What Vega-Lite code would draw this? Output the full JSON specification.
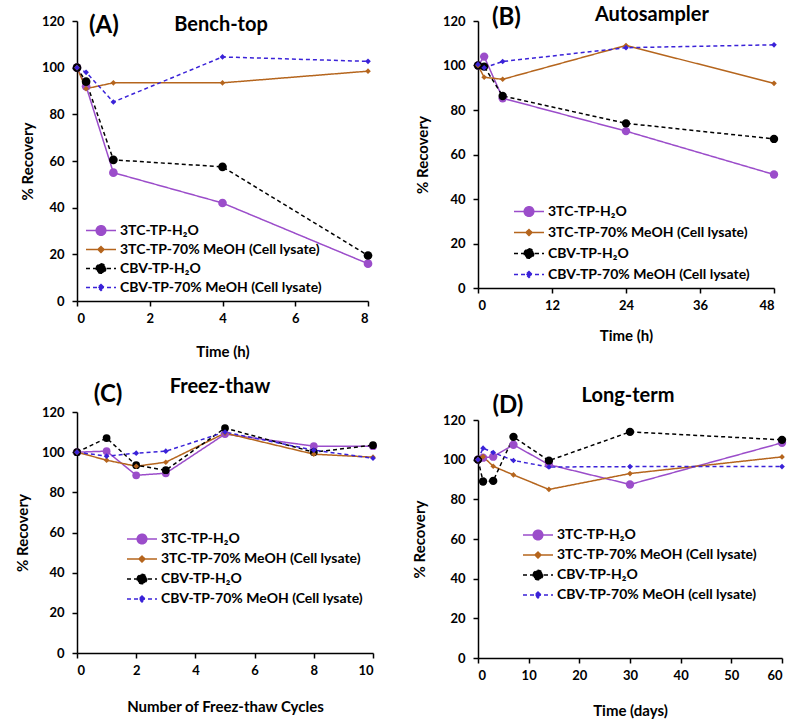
{
  "$schema": "https://vega.github.io/schema/vega-lite/v6.json",
  "padding": {"left": 15, "top": 4, "right": 5, "bottom": 5},
  "background": "white",
  "data": {"values": [
    {"p":"A","s":"3TC-TP-H₂O","x":0,"y":100},{"p":"A","s":"3TC-TP-H₂O","x":0.25,"y":92},{"p":"A","s":"3TC-TP-H₂O","x":1,"y":55},{"p":"A","s":"3TC-TP-H₂O","x":4,"y":42},{"p":"A","s":"3TC-TP-H₂O","x":8,"y":16},
    {"p":"A","s":"3TC-TP-70% MeOH (Cell lysate)","x":0,"y":100},{"p":"A","s":"3TC-TP-70% MeOH (Cell lysate)","x":0.25,"y":91},{"p":"A","s":"3TC-TP-70% MeOH (Cell lysate)","x":1,"y":93.5},{"p":"A","s":"3TC-TP-70% MeOH (Cell lysate)","x":4,"y":93.5},{"p":"A","s":"3TC-TP-70% MeOH (Cell lysate)","x":8,"y":98.5},
    {"p":"A","s":"CBV-TP-H₂O","x":0,"y":100},{"p":"A","s":"CBV-TP-H₂O","x":0.25,"y":94},{"p":"A","s":"CBV-TP-H₂O","x":1,"y":60.5},{"p":"A","s":"CBV-TP-H₂O","x":4,"y":57.5},{"p":"A","s":"CBV-TP-H₂O","x":8,"y":19.5},
    {"p":"A","s":"CBV-TP-70% MeOH (Cell lysate)","x":0,"y":100},{"p":"A","s":"CBV-TP-70% MeOH (Cell lysate)","x":0.25,"y":98},{"p":"A","s":"CBV-TP-70% MeOH (Cell lysate)","x":1,"y":85.3},{"p":"A","s":"CBV-TP-70% MeOH (Cell lysate)","x":4,"y":104.6},{"p":"A","s":"CBV-TP-70% MeOH (Cell lysate)","x":8,"y":102.7},

    {"p":"B","s":"3TC-TP-H₂O","x":0,"y":100},{"p":"B","s":"3TC-TP-H₂O","x":1,"y":104},{"p":"B","s":"3TC-TP-H₂O","x":4,"y":85.3},{"p":"B","s":"3TC-TP-H₂O","x":24,"y":70.5},{"p":"B","s":"3TC-TP-H₂O","x":48,"y":51},
    {"p":"B","s":"3TC-TP-70% MeOH (Cell lysate)","x":0,"y":100},{"p":"B","s":"3TC-TP-70% MeOH (Cell lysate)","x":1,"y":94.7},{"p":"B","s":"3TC-TP-70% MeOH (Cell lysate)","x":4,"y":93.8},{"p":"B","s":"3TC-TP-70% MeOH (Cell lysate)","x":24,"y":109},{"p":"B","s":"3TC-TP-70% MeOH (Cell lysate)","x":48,"y":92},
    {"p":"B","s":"CBV-TP-H₂O","x":0,"y":100},{"p":"B","s":"CBV-TP-H₂O","x":1,"y":99.5},{"p":"B","s":"CBV-TP-H₂O","x":4,"y":86.3},{"p":"B","s":"CBV-TP-H₂O","x":24,"y":74},{"p":"B","s":"CBV-TP-H₂O","x":48,"y":67},
    {"p":"B","s":"CBV-TP-70% MeOH (Cell lysate)","x":0,"y":100.5},{"p":"B","s":"CBV-TP-70% MeOH (Cell lysate)","x":1,"y":99},{"p":"B","s":"CBV-TP-70% MeOH (Cell lysate)","x":4,"y":101.8},{"p":"B","s":"CBV-TP-70% MeOH (Cell lysate)","x":24,"y":108},{"p":"B","s":"CBV-TP-70% MeOH (Cell lysate)","x":48,"y":109.3},

    {"p":"C","s":"3TC-TP-H₂O","x":0,"y":100},{"p":"C","s":"3TC-TP-H₂O","x":1,"y":100.5},{"p":"C","s":"3TC-TP-H₂O","x":2,"y":88.5},{"p":"C","s":"3TC-TP-H₂O","x":3,"y":89.5},{"p":"C","s":"3TC-TP-H₂O","x":5,"y":109},{"p":"C","s":"3TC-TP-H₂O","x":8,"y":103},{"p":"C","s":"3TC-TP-H₂O","x":10,"y":103},
    {"p":"C","s":"3TC-TP-70% MeOH (Cell lysate)","x":0,"y":100},{"p":"C","s":"3TC-TP-70% MeOH (Cell lysate)","x":1,"y":96},{"p":"C","s":"3TC-TP-70% MeOH (Cell lysate)","x":2,"y":93},{"p":"C","s":"3TC-TP-70% MeOH (Cell lysate)","x":3,"y":95},{"p":"C","s":"3TC-TP-70% MeOH (Cell lysate)","x":5,"y":109.5},{"p":"C","s":"3TC-TP-70% MeOH (Cell lysate)","x":8,"y":99},{"p":"C","s":"3TC-TP-70% MeOH (Cell lysate)","x":10,"y":97.5},
    {"p":"C","s":"CBV-TP-H₂O","x":0,"y":100},{"p":"C","s":"CBV-TP-H₂O","x":1,"y":107},{"p":"C","s":"CBV-TP-H₂O","x":2,"y":93.5},{"p":"C","s":"CBV-TP-H₂O","x":3,"y":91},{"p":"C","s":"CBV-TP-H₂O","x":5,"y":112},{"p":"C","s":"CBV-TP-H₂O","x":8,"y":100},{"p":"C","s":"CBV-TP-H₂O","x":10,"y":103.5},
    {"p":"C","s":"CBV-TP-70% MeOH (Cell lysate)","x":0,"y":100},{"p":"C","s":"CBV-TP-70% MeOH (Cell lysate)","x":1,"y":98},{"p":"C","s":"CBV-TP-70% MeOH (Cell lysate)","x":2,"y":99.5},{"p":"C","s":"CBV-TP-70% MeOH (Cell lysate)","x":3,"y":100.5},{"p":"C","s":"CBV-TP-70% MeOH (Cell lysate)","x":5,"y":110},{"p":"C","s":"CBV-TP-70% MeOH (Cell lysate)","x":8,"y":101},{"p":"C","s":"CBV-TP-70% MeOH (Cell lysate)","x":10,"y":97},

    {"p":"D","s":"3TC-TP-H₂O","x":0,"y":100},{"p":"D","s":"3TC-TP-H₂O","x":1,"y":101},{"p":"D","s":"3TC-TP-H₂O","x":3,"y":101.5},{"p":"D","s":"3TC-TP-H₂O","x":7,"y":107.5},{"p":"D","s":"3TC-TP-H₂O","x":14,"y":97.5},{"p":"D","s":"3TC-TP-H₂O","x":30,"y":87.5},{"p":"D","s":"3TC-TP-H₂O","x":60,"y":108.5},
    {"p":"D","s":"3TC-TP-70% MeOH (Cell lysate)","x":0,"y":100},{"p":"D","s":"3TC-TP-70% MeOH (Cell lysate)","x":1,"y":101.5},{"p":"D","s":"3TC-TP-70% MeOH (Cell lysate)","x":3,"y":96.7},{"p":"D","s":"3TC-TP-70% MeOH (Cell lysate)","x":7,"y":92.3},{"p":"D","s":"3TC-TP-70% MeOH (Cell lysate)","x":14,"y":85},{"p":"D","s":"3TC-TP-70% MeOH (Cell lysate)","x":30,"y":93},{"p":"D","s":"3TC-TP-70% MeOH (Cell lysate)","x":60,"y":101.4},
    {"p":"D","s":"CBV-TP-H₂O","x":0,"y":100},{"p":"D","s":"CBV-TP-H₂O","x":1,"y":89},{"p":"D","s":"CBV-TP-H₂O","x":3,"y":89.3},{"p":"D","s":"CBV-TP-H₂O","x":7,"y":111.5},{"p":"D","s":"CBV-TP-H₂O","x":14,"y":99.5},{"p":"D","s":"CBV-TP-H₂O","x":30,"y":114},{"p":"D","s":"CBV-TP-H₂O","x":60,"y":110},
    {"p":"D","s":"CBV-TP-70% MeOH (cell lysate)","x":0,"y":100},{"p":"D","s":"CBV-TP-70% MeOH (cell lysate)","x":1,"y":105.8},{"p":"D","s":"CBV-TP-70% MeOH (cell lysate)","x":3,"y":103.6},{"p":"D","s":"CBV-TP-70% MeOH (cell lysate)","x":7,"y":99.6},{"p":"D","s":"CBV-TP-70% MeOH (cell lysate)","x":14,"y":96.3},{"p":"D","s":"CBV-TP-70% MeOH (cell lysate)","x":30,"y":96.5},{"p":"D","s":"CBV-TP-70% MeOH (cell lysate)","x":60,"y":96.5}
  ]},
  "hconcat": [
    {
      "vconcat": [
        {
          "width": 291, "height": 280,
          "transform": [{"filter": "datum.p === 'A'"}],
          "layer": [
            {"mark": {"type": "line", "strokeWidth": 1.5},
             "encoding": {
               "x": {"field": "x", "type": "quantitative", "scale": {"domain": [0, 8], "nice": false}, "axis": {"values": [0,2,4,6,8], "title": "Time (h)", "titlePadding": 19, "labelOverlap": false}},
               "y": {"field": "y", "type": "quantitative", "scale": {"domain": [0, 120], "nice": false}, "axis": {"values": [0,20,40,60,80,100,120], "title": "% Recovery", "titlePadding": 6, "labelOverlap": false}},
               "color": {"field": "s", "type": "nominal", "scale": {"domain": ["3TC-TP-H₂O","3TC-TP-70% MeOH (Cell lysate)","CBV-TP-H₂O","CBV-TP-70% MeOH (Cell lysate)"], "range": ["#9B4DCA","#B5651D","#000000","#3A22D8"]},
                 "legend": {"title": null, "orient": "none", "legendX": 8, "legendY": 200, "clipHeight": 19,
                   "encode": {"symbols": {"update": {
                     "shape": {"signal": "indexof(datum.value,'H₂O')>0 ? 'M-1,0H1M-0.32,0A0.32,0.32 0 1,1 0.32,0A0.32,0.32 0 1,1 -0.32,0Z' : 'M-1,0H1M0,-0.2L0.2,0L0,0.2L-0.2,0Z'"},
                     "fill": {"signal": "indexof(datum.value,'3TC')===0 ? (indexof(datum.value,'H₂O')>0 ? '#9B4DCA' : '#B5651D') : (indexof(datum.value,'H₂O')>0 ? '#000000' : '#3A22D8')"},
                     "stroke": {"signal": "indexof(datum.value,'3TC')===0 ? (indexof(datum.value,'H₂O')>0 ? '#9B4DCA' : '#B5651D') : (indexof(datum.value,'H₂O')>0 ? '#000000' : '#3A22D8')"},
                     "strokeDash": {"signal": "indexof(datum.value,'CBV')===0 ? [4,3] : [1,0]"},
                     "strokeWidth": {"value": 1.5},
                     "opacity": {"value": 1}
                   }}}}},
               "strokeDash": {"field": "s", "type": "nominal", "scale": {"domain": ["3TC-TP-H₂O","3TC-TP-70% MeOH (Cell lysate)","CBV-TP-H₂O","CBV-TP-70% MeOH (Cell lysate)"], "range": [[1,0],[1,0],[4,3],[4,3]]}, "legend": null}
             }},
            {"transform": [{"filter": "indexof(datum.s,'H₂O') > 0"}],
             "mark": {"type": "point", "filled": true, "opacity": 1, "shape": "circle", "size": 75},
             "encoding": {"x": {"field": "x", "type": "quantitative"}, "y": {"field": "y", "type": "quantitative"}, "color": {"field": "s", "type": "nominal"}}},
            {"transform": [{"filter": "indexof(datum.s,'MeOH') > 0"}],
             "mark": {"type": "point", "filled": true, "opacity": 1, "shape": "diamond", "size": 32},
             "encoding": {"x": {"field": "x", "type": "quantitative"}, "y": {"field": "y", "type": "quantitative"}, "color": {"field": "s", "type": "nominal"}}},
            {"data": {"values": [{}]}, "mark": {"type": "text", "fontSize": 24, "fontWeight": "bold", "color": "black", "baseline": "middle", "align": "center"},
             "encoding": {"x": {"datum": 0.74}, "y": {"datum": 118}, "text": {"value": "(A)"}}},
            {"data": {"values": [{}]}, "mark": {"type": "text", "fontSize": 20, "fontWeight": "bold", "color": "black", "baseline": "middle", "align": "center"},
             "encoding": {"x": {"datum": 3.96}, "y": {"datum": 118.5}, "text": {"value": "Bench-top"}}}
          ]
        },
        {
          "width": 296, "height": 241,
          "transform": [{"filter": "datum.p === 'C'"}],
          "layer": [
            {"mark": {"type": "line", "strokeWidth": 1.5},
             "encoding": {
               "x": {"field": "x", "type": "quantitative", "scale": {"domain": [0, 10], "nice": false}, "axis": {"values": [0,2,4,6,8,10], "title": "Number of Freez-thaw Cycles", "titlePadding": 22, "labelOverlap": false}},
               "y": {"field": "y", "type": "quantitative", "scale": {"domain": [0, 120], "nice": false}, "axis": {"values": [0,20,40,60,80,100,120], "title": "% Recovery", "titlePadding": 11, "labelOverlap": false}},
               "color": {"field": "s", "type": "nominal", "scale": {"domain": ["3TC-TP-H₂O","3TC-TP-70% MeOH (Cell lysate)","CBV-TP-H₂O","CBV-TP-70% MeOH (Cell lysate)"], "range": ["#9B4DCA","#B5651D","#000000","#3A22D8"]},
                 "legend": {"title": null, "orient": "none", "legendX": 49, "legendY": 117, "clipHeight": 20,
                   "encode": {"symbols": {"update": {
                     "shape": {"signal": "indexof(datum.value,'H₂O')>0 ? 'M-1,0H1M-0.32,0A0.32,0.32 0 1,1 0.32,0A0.32,0.32 0 1,1 -0.32,0Z' : 'M-1,0H1M0,-0.2L0.2,0L0,0.2L-0.2,0Z'"},
                     "fill": {"signal": "indexof(datum.value,'3TC')===0 ? (indexof(datum.value,'H₂O')>0 ? '#9B4DCA' : '#B5651D') : (indexof(datum.value,'H₂O')>0 ? '#000000' : '#3A22D8')"},
                     "stroke": {"signal": "indexof(datum.value,'3TC')===0 ? (indexof(datum.value,'H₂O')>0 ? '#9B4DCA' : '#B5651D') : (indexof(datum.value,'H₂O')>0 ? '#000000' : '#3A22D8')"},
                     "strokeDash": {"signal": "indexof(datum.value,'CBV')===0 ? [4,3] : [1,0]"},
                     "strokeWidth": {"value": 1.5},
                     "opacity": {"value": 1}
                   }}}}},
               "strokeDash": {"field": "s", "type": "nominal", "scale": {"domain": ["3TC-TP-H₂O","3TC-TP-70% MeOH (Cell lysate)","CBV-TP-H₂O","CBV-TP-70% MeOH (Cell lysate)"], "range": [[1,0],[1,0],[4,3],[4,3]]}, "legend": null}
             }},
            {"transform": [{"filter": "indexof(datum.s,'H₂O') > 0"}],
             "mark": {"type": "point", "filled": true, "opacity": 1, "shape": "circle", "size": 60},
             "encoding": {"x": {"field": "x", "type": "quantitative"}, "y": {"field": "y", "type": "quantitative"}, "color": {"field": "s", "type": "nominal"}}},
            {"transform": [{"filter": "indexof(datum.s,'MeOH') > 0"}],
             "mark": {"type": "point", "filled": true, "opacity": 1, "shape": "diamond", "size": 32},
             "encoding": {"x": {"field": "x", "type": "quantitative"}, "y": {"field": "y", "type": "quantitative"}, "color": {"field": "s", "type": "nominal"}}},
            {"data": {"values": [{}]}, "mark": {"type": "text", "fontSize": 24, "fontWeight": "bold", "color": "black", "baseline": "middle", "align": "center"},
             "encoding": {"x": {"datum": 1.05}, "y": {"datum": 128.5}, "text": {"value": "(C)"}}},
            {"data": {"values": [{}]}, "mark": {"type": "text", "fontSize": 20, "fontWeight": "bold", "color": "black", "baseline": "middle", "align": "center"},
             "encoding": {"x": {"datum": 4.83}, "y": {"datum": 132.5}, "text": {"value": "Freez-thaw"}}}
          ]
        }
      ],
      "spacing": 17, "align": "each",
      "resolve": {"scale": {"color": "independent", "strokeDash": "independent", "x": "independent", "y": "independent"}, "legend": {"color": "independent"}, "axis": {"x": "independent", "y": "independent"}}
    },
    {
      "vconcat": [
        {
          "width": 296, "height": 267,
          "transform": [{"filter": "datum.p === 'B'"}],
          "layer": [
            {"mark": {"type": "line", "strokeWidth": 1.5},
             "encoding": {
               "x": {"field": "x", "type": "quantitative", "scale": {"domain": [0, 48], "nice": false}, "axis": {"values": [0,6,12,18,24,30,36,42,48], "title": "Time (h)", "titlePadding": 16, "labelOverlap": false}},
               "y": {"field": "y", "type": "quantitative", "scale": {"domain": [0, 120], "nice": false}, "axis": {"values": [0,20,40,60,80,100,120], "title": "% Recovery", "titlePadding": 12, "labelOverlap": false}},
               "color": {"field": "s", "type": "nominal", "scale": {"domain": ["3TC-TP-H₂O","3TC-TP-70% MeOH (Cell lysate)","CBV-TP-H₂O","CBV-TP-70% MeOH (Cell lysate)"], "range": ["#9B4DCA","#B5651D","#000000","#3A22D8"]},
                 "legend": {"title": null, "orient": "none", "legendX": 35, "legendY": 180, "clipHeight": 21,
                   "encode": {"symbols": {"update": {
                     "shape": {"signal": "indexof(datum.value,'H₂O')>0 ? 'M-1,0H1M-0.32,0A0.32,0.32 0 1,1 0.32,0A0.32,0.32 0 1,1 -0.32,0Z' : 'M-1,0H1M0,-0.2L0.2,0L0,0.2L-0.2,0Z'"},
                     "fill": {"signal": "indexof(datum.value,'3TC')===0 ? (indexof(datum.value,'H₂O')>0 ? '#9B4DCA' : '#B5651D') : (indexof(datum.value,'H₂O')>0 ? '#000000' : '#3A22D8')"},
                     "stroke": {"signal": "indexof(datum.value,'3TC')===0 ? (indexof(datum.value,'H₂O')>0 ? '#9B4DCA' : '#B5651D') : (indexof(datum.value,'H₂O')>0 ? '#000000' : '#3A22D8')"},
                     "strokeDash": {"signal": "indexof(datum.value,'CBV')===0 ? [4,3] : [1,0]"},
                     "strokeWidth": {"value": 1.5},
                     "opacity": {"value": 1}
                   }}}}},
               "strokeDash": {"field": "s", "type": "nominal", "scale": {"domain": ["3TC-TP-H₂O","3TC-TP-70% MeOH (Cell lysate)","CBV-TP-H₂O","CBV-TP-70% MeOH (Cell lysate)"], "range": [[1,0],[1,0],[4,3],[4,3]]}, "legend": null}
             }},
            {"transform": [{"filter": "indexof(datum.s,'H₂O') > 0"}],
             "mark": {"type": "point", "filled": true, "opacity": 1, "shape": "circle", "size": 70},
             "encoding": {"x": {"field": "x", "type": "quantitative"}, "y": {"field": "y", "type": "quantitative"}, "color": {"field": "s", "type": "nominal"}}},
            {"transform": [{"filter": "indexof(datum.s,'MeOH') > 0"}],
             "mark": {"type": "point", "filled": true, "opacity": 1, "shape": "diamond", "size": 32},
             "encoding": {"x": {"field": "x", "type": "quantitative"}, "y": {"field": "y", "type": "quantitative"}, "color": {"field": "s", "type": "nominal"}}},
            {"data": {"values": [{}]}, "mark": {"type": "text", "fontSize": 24, "fontWeight": "bold", "color": "black", "baseline": "middle", "align": "center"},
             "encoding": {"x": {"datum": 4.6}, "y": {"datum": 121.5}, "text": {"value": "(B)"}}},
            {"data": {"values": [{}]}, "mark": {"type": "text", "fontSize": 20, "fontWeight": "bold", "color": "black", "baseline": "middle", "align": "center"},
             "encoding": {"x": {"datum": 28.2}, "y": {"datum": 122.8}, "text": {"value": "Autosampler"}}}
          ]
        },
        {
          "width": 304, "height": 238,
          "transform": [{"filter": "datum.p === 'D'"}],
          "layer": [
            {"mark": {"type": "line", "strokeWidth": 1.5},
             "encoding": {
               "x": {"field": "x", "type": "quantitative", "scale": {"domain": [0, 60], "nice": false}, "axis": {"values": [0,10,20,30,40,50,60], "title": "Time (days)", "titlePadding": 21, "labelOverlap": false}},
               "y": {"field": "y", "type": "quantitative", "scale": {"domain": [0, 120], "nice": false}, "axis": {"values": [0,20,40,60,80,100,120], "tickCount": 7, "title": "% Recovery", "titlePadding": 15, "labelOverlap": false, "labelSeparation": 0, "labelBound": false}},
               "color": {"field": "s", "type": "nominal", "scale": {"domain": ["3TC-TP-H₂O","3TC-TP-70% MeOH (Cell lysate)","CBV-TP-H₂O","CBV-TP-70% MeOH (cell lysate)"], "range": ["#9B4DCA","#B5651D","#000000","#3A22D8"]},
                 "legend": {"title": null, "orient": "none", "legendX": 44, "legendY": 105, "clipHeight": 20,
                   "encode": {"symbols": {"update": {
                     "shape": {"signal": "indexof(datum.value,'H₂O')>0 ? 'M-1,0H1M-0.32,0A0.32,0.32 0 1,1 0.32,0A0.32,0.32 0 1,1 -0.32,0Z' : 'M-1,0H1M0,-0.2L0.2,0L0,0.2L-0.2,0Z'"},
                     "fill": {"signal": "indexof(datum.value,'3TC')===0 ? (indexof(datum.value,'H₂O')>0 ? '#9B4DCA' : '#B5651D') : (indexof(datum.value,'H₂O')>0 ? '#000000' : '#3A22D8')"},
                     "stroke": {"signal": "indexof(datum.value,'3TC')===0 ? (indexof(datum.value,'H₂O')>0 ? '#9B4DCA' : '#B5651D') : (indexof(datum.value,'H₂O')>0 ? '#000000' : '#3A22D8')"},
                     "strokeDash": {"signal": "indexof(datum.value,'CBV')===0 ? [4,3] : [1,0]"},
                     "strokeWidth": {"value": 1.5},
                     "opacity": {"value": 1}
                   }}}}},
               "strokeDash": {"field": "s", "type": "nominal", "scale": {"domain": ["3TC-TP-H₂O","3TC-TP-70% MeOH (Cell lysate)","CBV-TP-H₂O","CBV-TP-70% MeOH (cell lysate)"], "range": [[1,0],[1,0],[4,3],[4,3]]}, "legend": null}
             }},
            {"transform": [{"filter": "indexof(datum.s,'H₂O') > 0"}],
             "mark": {"type": "point", "filled": true, "opacity": 1, "shape": "circle", "size": 70},
             "encoding": {"x": {"field": "x", "type": "quantitative"}, "y": {"field": "y", "type": "quantitative", "axis": {"values": [0,20,40,60,80,100,120], "labelOverlap": false}}, "color": {"field": "s", "type": "nominal"}}},
            {"transform": [{"filter": "indexof(datum.s,'MeOH') > 0"}],
             "mark": {"type": "point", "filled": true, "opacity": 1, "shape": "diamond", "size": 32},
             "encoding": {"x": {"field": "x", "type": "quantitative"}, "y": {"field": "y", "type": "quantitative", "axis": {"values": [0,20,40,60,80,100,120], "labelOverlap": false}}, "color": {"field": "s", "type": "nominal"}}},
            {"data": {"values": [{}]}, "mark": {"type": "text", "fontSize": 24, "fontWeight": "bold", "color": "black", "baseline": "middle", "align": "center"},
             "encoding": {"x": {"datum": 5.9}, "y": {"datum": 127}, "text": {"value": "(D)"}}},
            {"data": {"values": [{}]}, "mark": {"type": "text", "fontSize": 20, "fontWeight": "bold", "color": "black", "baseline": "middle", "align": "center"},
             "encoding": {"x": {"datum": 29.6}, "y": {"datum": 132}, "text": {"value": "Long-term"}}}
          ]
        }
      ],
      "spacing": 43, "align": "each",
      "resolve": {"scale": {"color": "independent", "strokeDash": "independent", "x": "independent", "y": "independent"}, "legend": {"color": "independent"}, "axis": {"x": "independent", "y": "independent"}}
    }
  ],
  "spacing": 35,
  "align": "none",
  "resolve": {"scale": {"color": "independent", "strokeDash": "independent", "x": "independent", "y": "independent"}, "legend": {"color": "independent"}},
  "config": {
    "font": "Lato",
    "view": {"stroke": null},
    "axis": {"grid": false, "domainColor": "black", "domainWidth": 1.5, "tickColor": "black", "tickWidth": 1.5, "tickSize": 5, "labelOverlap": false,
             "labelFont": "Lato", "labelFontSize": 13, "labelFontWeight": "bold", "labelColor": "black", "labelPadding": 6,
             "titleFont": "Lato", "titleFontSize": 15, "titleFontWeight": "bold", "titleColor": "black"},
    "axisY": {"labelPadding": 8},
    "legend": {"labelFont": "Lato", "labelFontSize": 14, "labelFontWeight": "bold", "labelColor": "black", "labelLimit": 400, "symbolSize": 900, "labelOffset": 3, "padding": 0, "rowPadding": 0, "symbolStrokeWidth": 1.5},
    "text": {"font": "Lato"}
  }
}
